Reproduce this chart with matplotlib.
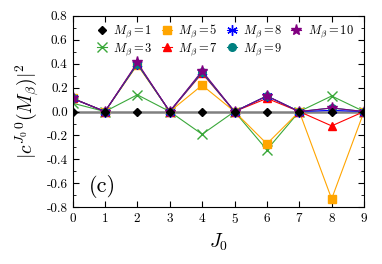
import matplotlib
matplotlib.use("Agg")
import matplotlib.pyplot as plt
from matplotlib.ticker import FormatStrFormatter, MultipleLocator

plt.rcParams["mathtext.fontset"] = "cm"
plt.rcParams["font.family"] = ["cmr10", "DejaVu Serif"]
plt.rcParams["axes.unicode_minus"] = False
plt.rcParams["axes.formatter.use_mathtext"] = True

J0 = list(range(10))
m1 = [0, 0, 0, 0, 0, 0, 0, 0, 0, 0]
m3 = [0.07, 0, 0.14, 0, -0.19, 0, -0.32, 0, 0.13, 0]
m5 = [0.11, 0, 0.39, 0, 0.22, 0, -0.27, 0, -0.73, 0]
m7 = [0.11, 0, 0.40, 0, 0.32, 0, 0.11, 0, -0.12, 0]
m8 = [0.11, 0, 0.40, 0, 0.33, 0, 0.13, 0, 0.01, 0]
m9 = [0.11, 0, 0.40, 0, 0.33, 0, 0.13, 0, 0.03, 0]
m10 = [0.11, 0, 0.41, 0, 0.34, 0, 0.13, 0, 0.03, 0]

series = [
    (m1, r"$M_\beta = 1$", "black", "D", 4.5),
    (m3, r"$M_\beta = 3$", "#3aa83a", "x", 7),
    (m5, r"$M_\beta = 5$", "orange", "s", 5.5),
    (m7, r"$M_\beta = 7$", "red", "^", 6),
    (m8, r"$M_\beta = 8$", "blue", (6, 2, 0), 7.5),
    (m9, r"$M_\beta = 9$", "teal", "o", 5.5),
    (m10, r"$M_\beta = 10$", "purple", "*", 8),
]

fig, ax = plt.subplots(figsize=(3.82, 2.64), dpi=100)
ax.axhline(0, color="gray", lw=1.8, zorder=1)

for vals, label, color, marker, ms in series:
    if vals is m1:
        ax.plot(J0, vals, ls="none", marker=marker, color=color, ms=ms,
                label=label, zorder=3)
    else:
        ax.plot(J0, vals, "-", marker=marker, color=color, ms=ms, lw=0.8,
                mew=1.0, label=label, zorder=2)

ax.set_xlim(0, 9)
ax.set_ylim(-0.8, 0.8)
ax.set_xticks(J0)
ax.yaxis.set_major_locator(MultipleLocator(0.2))
ax.yaxis.set_minor_locator(MultipleLocator(0.1))
ax.yaxis.set_major_formatter(FormatStrFormatter("%.1f"))
ax.tick_params(which="both", direction="in", top=True, right=True, labelsize=9.5)
ax.tick_params(which="major", length=4)
ax.tick_params(which="minor", length=2)

ax.set_xlabel(r"$J_0$", fontsize=14)
ax.set_ylabel(r"$|c^{J_0\,0}(M_\beta)|^2$", fontsize=14)
ax.text(0.5, -0.63, "(c)", fontsize=16, va="center")

ax.legend(ncol=4, loc="upper left", bbox_to_anchor=(0.06, 1.0), frameon=False,
          fontsize=9, handlelength=0.8, handletextpad=0.5, columnspacing=0.7,
          labelspacing=0.1, borderaxespad=0.15)

fig.subplots_adjust(left=0.19, right=0.953, top=0.94, bottom=0.215)
fig.savefig("out.png", dpi=100)
